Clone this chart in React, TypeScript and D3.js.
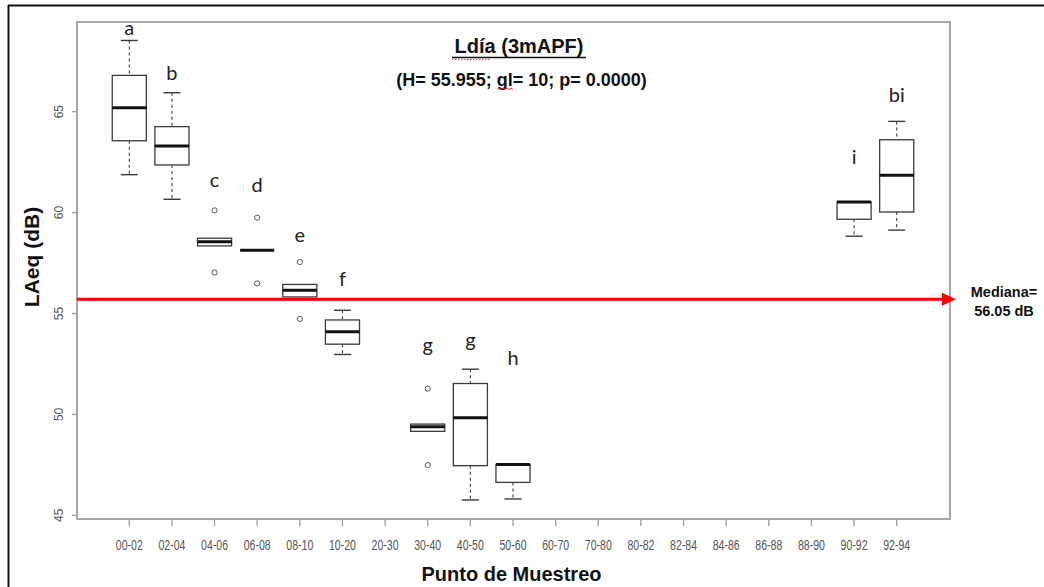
import * as d3 from "d3"

// Sampling points (x axis)
const categories = [
  "00-02", "02-04", "04-06", "06-08", "08-10", "10-20", "20-30", "30-40", "40-50", "50-60",
  "60-70", "70-80", "80-82", "82-84", "84-86", "86-88", "88-90", "90-92", "92-94",
]

// Box statistics (dB); null = no data at that point
const whiskerLow = [61.88, 60.66, null, null, null, 52.97, null, null, 45.76, 45.81, null, null, null, null, null, null, null, 58.83, 59.13]
const q1 = [63.56, 62.36, 58.35, 58.13, 55.82, 53.48, null, 49.16, 47.46, 46.63, null, null, null, null, null, null, null, 59.67, 60.03]
const median = [65.2, 63.3, 58.55, 58.13, 56.15, 54.09, null, 49.39, 49.83, 47.52, null, null, null, null, null, null, null, 60.52, 61.85]
const q3 = [66.8, 64.26, 58.73, 58.13, 56.44, 54.68, null, 49.52, 51.53, 47.52, null, null, null, null, null, null, null, 60.52, 63.61]
const whiskerHigh = [68.53, 65.94, null, null, null, 55.16, null, null, 52.24, null, null, null, null, null, null, null, null, null, 64.52]
const outliers: number[][] = [[], [], [60.11, 57.03], [59.75, 56.49], [57.55, 54.73], [], [], [51.28, 47.49], [], [], [], [], [], [], [], [], [], [], []]

// Kruskal-Wallis group letters and where they sit
const letters = ["a", "b", "c", "d", "e", "f", "", "g", "g", "h", "", "", "", "", "", "", "", "i", "bi"]
const letterY = [68.78, 66.55, 61.26, 61.01, 58.53, 56.35, null, 53.08, 53.33, 52.44, null, null, null, null, null, null, null, 62.4, 65.5]

const yTicks = [45, 50, 55, 60, 65]
const medianLineValue = 55.7
const medianLabel = ["Mediana=", "56.05 dB"]

const W = 1044
const H = 587
const plot = { left: 77, right: 950, top: 22, bottom: 519 }

export default function App() {
  const x = d3.scaleLinear().domain([1, categories.length]).range([129.3, 896.7])
  const y = d3.scaleLinear().domain([45, 65]).range([515.3, 111.7])
  const step = x(2) - x(1)
  const boxW = step * 0.8
  const capW = boxW / 2
  const gray = "#9d9d9d"
  const boxStroke = "#3a3a3a"
  const arrowY = y(medianLineValue)

  return (
    <svg
      width={W}
      height={H}
      style={{ position: "absolute", left: 0, top: 0, background: "#fff" }}
      fontFamily="'Liberation Sans', Arial, sans-serif"
    >
      {/* outer frame */}
      <line x1={8} x2={W} y1={5.5} y2={5.5} stroke="#111" strokeWidth={2} />
      <line x1={8.5} x2={8.5} y1={5} y2={H} stroke="#111" strokeWidth={2} />

      {/* plot box */}
      <rect
        x={plot.left}
        y={plot.top}
        width={plot.right - plot.left}
        height={plot.bottom - plot.top}
        fill="none"
        stroke={gray}
        strokeWidth={1.8}
      />

      {/* y axis */}
      {yTicks.map((t) => (
        <g key={t}>
          <line x1={plot.left - 5} x2={plot.left} y1={y(t)} y2={y(t)} stroke={gray} strokeWidth={1.3} />
          <text
            transform={`translate(${63},${y(t)}) rotate(-90)`}
            textAnchor="middle"
            fontSize={12}
            fill="#555"
          >
            {t}
          </text>
        </g>
      ))}

      {/* x axis */}
      {categories.map((c, i) => (
        <g key={c}>
          <line x1={x(i + 1)} x2={x(i + 1)} y1={plot.bottom} y2={plot.bottom + 7} stroke={gray} strokeWidth={1.3} />
          <text
            x={x(i + 1)}
            y={550}
            textAnchor="middle"
            fontSize={14}
            fill="#555"
            textLength={27}
            lengthAdjust="spacingAndGlyphs"
          >
            {c}
          </text>
        </g>
      ))}

      {/* boxes */}
      {categories.map((c, i) => {
        if (median[i] == null) return null
        const cx = x(i + 1)
        const top = y(q3[i] as number)
        const bot = y(q1[i] as number)
        const lo = whiskerLow[i]
        const hi = whiskerHigh[i]
        return (
          <g key={"b" + c}>
            {hi != null && (
              <g stroke={boxStroke} strokeWidth={1.1}>
                <line x1={cx} x2={cx} y1={y(hi)} y2={top} strokeDasharray="3,3" />
                <line x1={cx - capW / 2} x2={cx + capW / 2} y1={y(hi)} y2={y(hi)} strokeWidth={1.4} />
              </g>
            )}
            {lo != null && (
              <g stroke={boxStroke} strokeWidth={1.1}>
                <line x1={cx} x2={cx} y1={bot} y2={y(lo)} strokeDasharray="3,3" />
                <line x1={cx - capW / 2} x2={cx + capW / 2} y1={y(lo)} y2={y(lo)} strokeWidth={1.4} />
              </g>
            )}
            <rect
              x={cx - boxW / 2}
              y={top}
              width={boxW}
              height={Math.max(bot - top, 0)}
              fill="#fff"
              stroke={boxStroke}
              strokeWidth={1.3}
            />
            <line
              x1={cx - boxW / 2}
              x2={cx + boxW / 2}
              y1={y(median[i] as number)}
              y2={y(median[i] as number)}
              stroke="#111"
              strokeWidth={3}
            />
            {outliers[i].map((o, k) => (
              <circle key={k} cx={cx} cy={y(o)} r={2.6} fill="none" stroke="#555" strokeWidth={1} />
            ))}
          </g>
        )
      })}

      {/* group letters */}
      {letters.map((l, i) =>
        l && letterY[i] != null ? (
          <text
            key={"l" + i}
            x={x(i + 1)}
            y={y(letterY[i] as number)}
            textAnchor="middle"
            fontSize={20}
            fontFamily="Lato, 'Open Sans', sans-serif"
            fill="#222"
          >
            {l}
          </text>
        ) : null
      )}

      {/* median reference line */}
      <line x1={plot.left} x2={944} y1={arrowY} y2={arrowY} stroke="#ff0000" strokeWidth={3} />
      <path d={`M942,${arrowY - 6.5} L956,${arrowY} L942,${arrowY + 6.5} Z`} fill="#ff0000" />
      <text x={1004} y={297} textAnchor="middle" fontSize={14.5} fontWeight="bold" fill="#111">
        {medianLabel[0]}
      </text>
      <text x={1004} y={316} textAnchor="middle" fontSize={14.5} fontWeight="bold" fill="#111">
        {medianLabel[1]}
      </text>

      {/* titles */}
      <text x={519} y={53} textAnchor="middle" fontSize={20} fontWeight="bold" fill="#111">
        Ldía (3mAPF)
      </text>
      <line x1={452} x2={586} y1={57.5} y2={57.5} stroke="#111" strokeWidth={1.5} />
      <line x1={452} x2={490} y1={59.5} y2={59.5} stroke="#c05050" strokeWidth={1} strokeDasharray="1.5,1.5" />
      <text x={521.5} y={86} textAnchor="middle" fontSize={18} fontWeight="bold" fill="#111">
        (H= 55.955; gl= 10; p= 0.0000)
      </text>
      <path
        d="M497,89.5 l2,-1.5 l2,1.5 l2,-1.5 l2,1.5 l2,-1.5 l2,1.5 l2,-1.5 l2,1.5"
        fill="none"
        stroke="#e03030"
        strokeWidth={1}
      />

      <text
        transform={`translate(${39},${257}) rotate(-90)`}
        textAnchor="middle"
        fontSize={21}
        fontWeight="bold"
        fill="#111"
      >
        LAeq (dB)
      </text>
      <text x={511.5} y={581} textAnchor="middle" fontSize={20} fontWeight="bold" fill="#111">
        Punto de Muestreo
      </text>
    </svg>
  )
}
